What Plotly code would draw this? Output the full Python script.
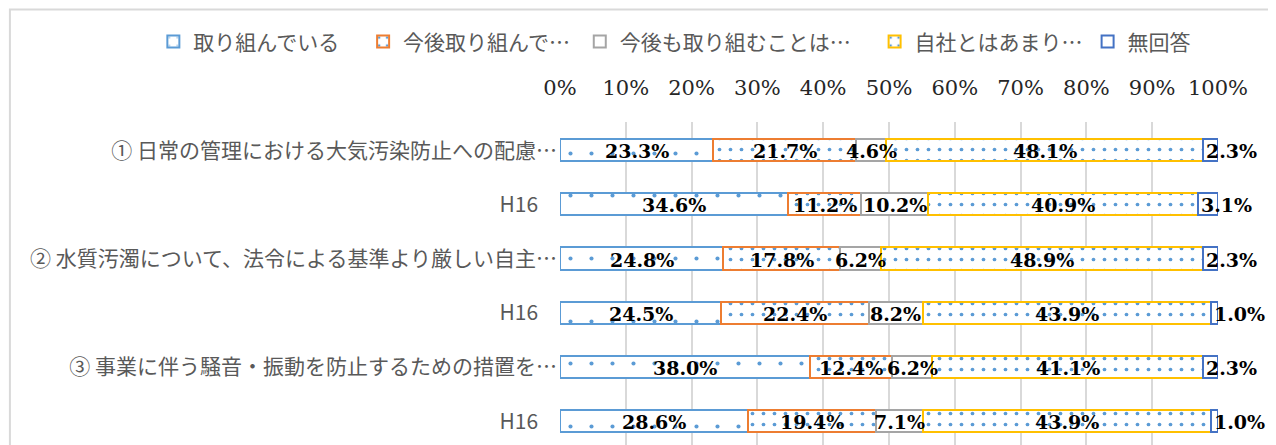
import numpy as np
import plotly.graph_objects as go

# ── data ───────────────────────────────────────────────────────────────────
categories = [
    "① 日常の管理における大気汚染防止への配慮…",
    "H16",
    "② 水質汚濁について、法令による基準より厳しい自主…",
    "H16",
    "③ 事業に伴う騒音・振動を防止するための措置を…",
    "H16",
]
series_names = ["取り組んでいる", "今後取り組んで…", "今後も取り組むことは…", "自社とはあまり…", "無回答"]
torikunde = [23.3, 34.6, 24.8, 24.5, 38.0, 28.6]
kongo = [21.7, 11.2, 17.8, 22.4, 12.4, 19.4]
kongo_mo = [4.6, 10.2, 6.2, 8.2, 6.2, 7.1]
jisha = [48.1, 40.9, 48.9, 43.9, 41.1, 43.9]
mukaito = [2.3, 3.1, 2.3, 1.0, 2.3, 1.0]
tick_vals = [0, 10, 20, 30, 40, 50, 60, 70, 80, 90, 100]
tick_text = [f"{v}%" for v in tick_vals]
# ───────────────────────────────────────────────────────────────────────────

values = [torikunde, kongo, kongo_mo, jisha, mukaito]
rows = list(range(len(categories)))
NB = "\u00a0"

STYLES = [
    dict(line="#5B9BD5", shape=".", size=21, solidity=0.03, pad=4),
    dict(line="#ED7D31", shape=".", size=11, solidity=0.09, pad=1),
    dict(line="#A5A5A5", shape="", size=11, solidity=0.09, pad=4),
    dict(line="#FFC000", shape=".", size=11, solidity=0.09, pad=0),
    dict(line="#4472C4", shape="", size=11, solidity=0.09, pad=0),
]

fig = go.Figure()
for name, vals, st in zip(series_names, values, STYLES):
    fig.add_trace(
        go.Bar(
            y=rows,
            x=vals,
            name=name + NB * st["pad"],
            orientation="h",
            width=0.41,
            marker=dict(
                color="white",
                line=dict(color=st["line"], width=2),
                pattern=dict(
                    shape=st["shape"],
                    fgcolor="#5B9BD5",
                    fgopacity=1,
                    bgcolor="white",
                    size=st["size"],
                    solidity=st["solidity"],
                    fillmode="overlay",
                ),
            ),
            hoverinfo="x+name",
        )
    )

# data labels
cum = np.cumsum(np.array(values), axis=0)
starts = cum - np.array(values)
label_font = dict(family="DejaVu Serif", size=19, color="black")
for s, vals in enumerate(values):
    last = s == len(values) - 1
    for r, v in enumerate(vals):
        fig.add_annotation(
            x=starts[s][r] if last else starts[s][r] + v / 2,
            y=r,
            text=f"<b>{v:.1f}%</b>",
            showarrow=False,
            xanchor="left" if last else "center",
            xshift=1 if last else 0,
            yshift=-1,
            font=label_font,
        )

# outer chart border
fig.add_shape(
    type="rect", xref="paper", yref="paper",
    x0=-0.836, x1=1.088, y0=-0.2, y1=1.348,
    line=dict(color="#D9D9D9", width=2), fillcolor="rgba(0,0,0,0)", layer="below",
)

fig.update_layout(
    width=1268,
    height=437,
    margin=dict(l=552, r=58, t=114, b=0, autoexpand=False),
    barmode="stack",
    plot_bgcolor="white",
    paper_bgcolor="white",
    showlegend=True,
    legend=dict(
        orientation="h",
        x=-0.618, xanchor="left",
        y=1.248, yanchor="middle",
        bgcolor="rgba(0,0,0,0)",
        font=dict(family="Noto Sans CJK JP", size=21, color="#595959"),
        itemwidth=30,
        traceorder="normal",
    ),
    xaxis=dict(
        side="top",
        range=[0, 100],
        tickvals=tick_vals,
        ticktext=tick_text,
        showgrid=True,
        gridcolor="#D9D9D9",
        gridwidth=1.5,
        zeroline=False,
        ticks="",
        ticklabelstandoff=22,
        tickfont=dict(family="DejaVu Serif", size=21, color="#262626"),
    ),
    yaxis=dict(
        range=[5.44, -0.52],
        tickvals=rows,
        ticktext=[c if c != "H16" else c + NB * 4 for c in categories],
        showgrid=False,
        zeroline=False,
        ticks="",
        ticklabelstandoff=2,
        tickfont=dict(family="Noto Sans CJK JP", size=21, color="#595959"),
    ),
)

fig.write_html("out.html")
